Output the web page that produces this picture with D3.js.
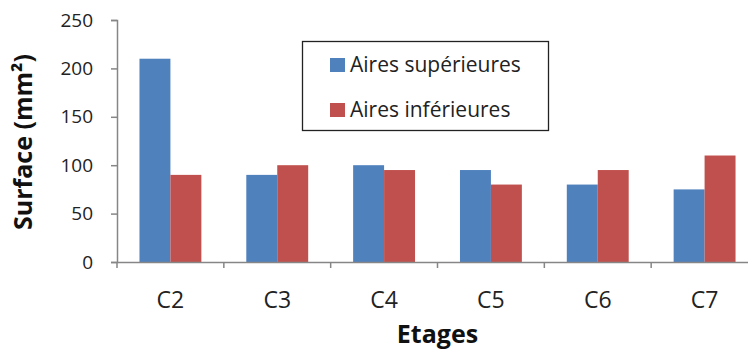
<!DOCTYPE html>
<html><head><meta charset="utf-8">
<script src="https://cdn.jsdelivr.net/npm/d3@7"></script>
<style>body{margin:0;background:#fff}svg{display:block}text{font-family:"Open Sans",sans-serif}</style>
</head><body>
<script>
const categories = ["C2","C3","C4","C5","C6","C7"];
const seriesNames = ["Aires supérieures","Aires inférieures"];
const superieures = [210, 90, 100, 95, 80, 75];
const inferieures = [90, 100, 95, 80, 95, 110];
const yTicks = [0, 50, 100, 150, 200, 250];
const colors = ["#4F81BD", "#C0504D"];

const W = 748, H = 350;
const svg = d3.select("body").append("svg").attr("width", W).attr("height", H);

const x0 = d3.scaleBand().domain(categories).range([117, 758]).padding(0);
const x1 = d3.scaleBand().domain(seriesNames).range([0, x0.bandwidth()]).paddingInner(0).paddingOuter(0.726);
const y = d3.scaleLinear().domain([0, 250]).range([262, 20]);

const data = categories.map((c, i) => ({c, vals: [superieures[i], inferieures[i]]}));

// bars
const g = svg.append("g");
data.forEach(d => {
  d.vals.forEach((v, k) => {
    g.append("rect")
      .attr("x", x0(d.c) + x1(seriesNames[k]))
      .attr("y", y(v))
      .attr("width", x1.bandwidth())
      .attr("height", y(0) - y(v))
      .attr("fill", colors[k]);
  });
});

const axisColor = "#868686";
// y axis
const yAxis = svg.append("g").attr("transform", "translate(117,0)")
  .call(d3.axisLeft(y).tickValues(yTicks).tickSize(6).tickPadding(18));
yAxis.select(".domain").attr("stroke", axisColor).attr("stroke-width", 1.5);
yAxis.selectAll(".tick line").attr("stroke", axisColor).attr("stroke-width", 1.5);
yAxis.selectAll(".tick text").attr("font-size", 19).attr("fill", "#222").attr("font-family", "DejaVu Sans");

// x axis
const xAxis = svg.append("g").attr("transform", "translate(0,262)")
  .call(d3.axisBottom(x0).tickSize(0));
xAxis.select(".domain").attr("stroke", axisColor).attr("stroke-width", 1.5);
xAxis.selectAll(".tick text").attr("font-size", 23).attr("fill", "#222")
  .attr("font-family", "Open Sans").attr("dy", 0).attr("y", 46);
// boundary ticks
const bounds = categories.map(c => x0(c)).concat([x0.range()[1]]);
svg.append("g").selectAll("line").data(bounds).join("line")
  .attr("x1", d => d).attr("x2", d => d).attr("y1", 262).attr("y2", 268)
  .attr("stroke", axisColor).attr("stroke-width", 1.5);

// axis titles
svg.append("text").attr("transform", "translate(32,142) rotate(-90)")
  .attr("text-anchor", "middle").attr("font-weight", "bold").attr("font-size", 25).attr("fill", "#111")
  .text("Surface (mm²)");
svg.append("text").attr("x", 437.5).attr("y", 343)
  .attr("text-anchor", "middle").attr("font-weight", "bold").attr("font-size", 25).attr("fill", "#111")
  .text("Etages");

// legend
const lg = svg.append("g");
lg.append("rect").attr("x", 302.5).attr("y", 41.5).attr("width", 246).attr("height", 89)
  .attr("fill", "#fff").attr("stroke", "#222").attr("stroke-width", 1.3);
seriesNames.forEach((s, k) => {
  const yy = 65 + k * 45;
  lg.append("rect").attr("x", 330).attr("y", yy - 7).attr("width", 15).attr("height", 14).attr("fill", colors[k]);
  lg.append("text").attr("x", 350).attr("y", yy + 7).attr("font-size", 21).attr("fill", "#222").text(s);
});
</script>
</body></html>
